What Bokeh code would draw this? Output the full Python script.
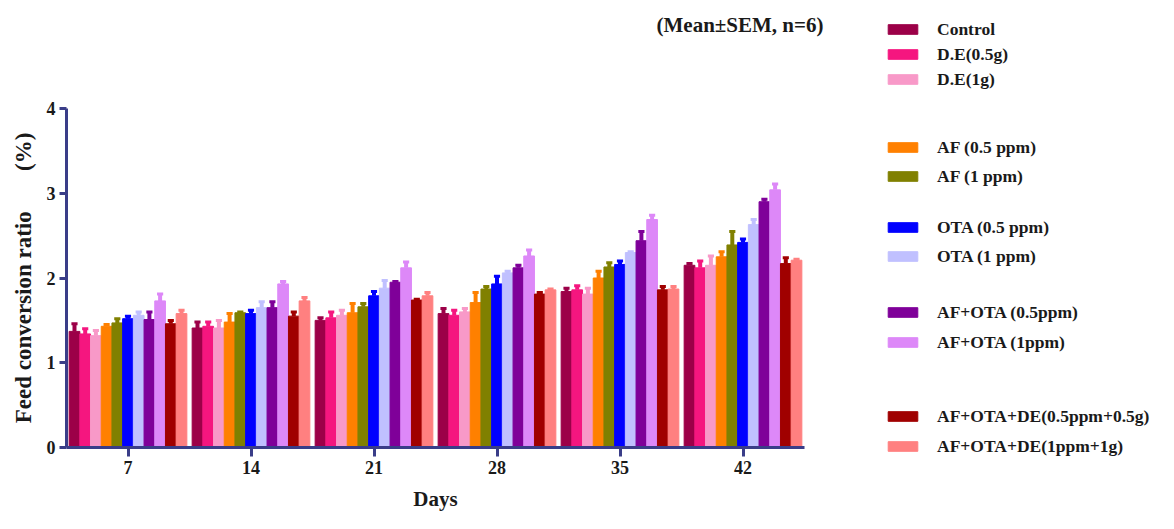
from bokeh.plotting import figure
from bokeh.layouts import row, column
from bokeh.models import (ColumnDataSource, FactorRange, Range1d, Legend, LegendItem,
                          Label, FixedTicker)
from bokeh.transform import dodge
from bokeh.embed import file_html
from bokeh.resources import INLINE

# ---------------- data ----------------
days = ["7", "14", "21", "28", "35", "42"]

series_names = [
    "Control", "D.E(0.5g)", "D.E(1g)",
    "AF (0.5 ppm)", "AF (1 ppm)",
    "OTA (0.5 ppm)", "OTA (1 ppm)",
    "AF+OTA (0.5ppm)", "AF+OTA (1ppm)",
    "AF+OTA+DE(0.5ppm+0.5g)", "AF+OTA+DE(1ppm+1g)",
]
series_colors = [
    "#9C0048", "#F5167F", "#F899C8",
    "#FF8000", "#808000",
    "#0000FF", "#C0C0FF",
    "#7F0099", "#DD88F8",
    "#A00000", "#FF8080",
]

control = [1.37, 1.41, 1.50, 1.58, 1.84, 2.15]
control_sem = [0.09, 0.07, 0.03, 0.06, 0.04, 0.02]
de_05 = [1.34, 1.43, 1.53, 1.56, 1.86, 2.12]
de_05_sem = [0.06, 0.05, 0.07, 0.06, 0.05, 0.08]
de_1 = [1.32, 1.41, 1.56, 1.60, 1.81, 2.15]
de_1_sem = [0.06, 0.09, 0.06, 0.04, 0.07, 0.11]
af_05 = [1.43, 1.48, 1.59, 1.71, 2.00, 2.25]
af_05_sem = [0.02, 0.10, 0.11, 0.12, 0.08, 0.06]
af_1 = [1.47, 1.59, 1.66, 1.87, 2.13, 2.39]
af_1_sem = [0.05, 0.01, 0.04, 0.03, 0.05, 0.16]
ota_05 = [1.52, 1.58, 1.79, 1.93, 2.16, 2.42]
ota_05_sem = [0.03, 0.04, 0.05, 0.09, 0.04, 0.04]
ota_1 = [1.56, 1.65, 1.88, 2.06, 2.30, 2.63]
ota_1_sem = [0.04, 0.07, 0.09, 0.02, 0.01, 0.06]
afota_05 = [1.51, 1.65, 1.95, 2.12, 2.44, 2.90]
afota_05_sem = [0.09, 0.07, 0.01, 0.03, 0.11, 0.03]
afota_1 = [1.73, 1.93, 2.12, 2.26, 2.69, 3.04]
afota_1_sem = [0.08, 0.03, 0.07, 0.07, 0.05, 0.07]
afotade_05 = [1.46, 1.55, 1.74, 1.81, 1.86, 2.17]
afotade_05_sem = [0.04, 0.05, 0.01, 0.02, 0.04, 0.07]
afotade_1 = [1.58, 1.73, 1.79, 1.86, 1.87, 2.21]
afotade_1_sem = [0.04, 0.04, 0.04, 0.01, 0.03, 0.01]

series_means = [control, de_05, de_1, af_05, af_1, ota_05, ota_1,
                afota_05, afota_1, afotade_05, afotade_1]
series_sems = [control_sem, de_05_sem, de_1_sem, af_05_sem, af_1_sem, ota_05_sem,
               ota_1_sem, afota_05_sem, afota_1_sem, afotade_05_sem, afotade_1_sem]

y_ticks = [0, 1, 2, 3, 4]

# ---------------- layout constants ----------------
FONT = "Liberation Serif"
AXIS_COLOR = "#3A3D88"
TEXT_COLOR = "#1A1A1A"
TOTAL_W, TOTAL_H = 1158, 513
LEFT_W = 870          # width of plot column
TOP_H = 45            # height of the note strip above the plot
LEG_W = TOTAL_W - LEFT_W


def blank_fig(w, h):
    f = figure(width=w, height=h, x_range=Range1d(0, w), y_range=Range1d(0, h),
               x_axis_type=None, y_axis_type=None, output_backend="svg",
               toolbar_location=None, min_border=0,
               min_border_left=0, min_border_right=0,
               min_border_top=0, min_border_bottom=0)
    f.frame_align = False
    f.grid.visible = False
    f.outline_line_color = None
    return f


# ---------------- note strip ----------------
top = blank_fig(LEFT_W, TOP_H)
top.add_layout(Label(x=656, y=TOP_H - 24, x_units="screen", y_units="screen",
                     text="(Mean\u00b1SEM, n=6)", text_font=FONT,
                     text_font_style="bold", text_font_size="21px", text_color=TEXT_COLOR,
                     text_align="left", text_baseline="middle"))

# ---------------- main plot ----------------
p = figure(
    x_range=FactorRange(*days, range_padding=0, factor_padding=0),
    y_range=Range1d(0, 4),
    width=LEFT_W, height=TOTAL_H - TOP_H,
    output_backend="svg", toolbar_location=None,
    min_border_left=66, min_border_right=LEFT_W - 804,
    min_border_top=108 - TOP_H, min_border_bottom=TOTAL_H - 449,
)
p.xgrid.visible = False
p.ygrid.visible = False
p.outline_line_color = None

bar_w = 0.087
cap_w = 0.05
n = len(series_names)
for i, (name, color, means, sems) in enumerate(zip(series_names, series_colors,
                                                     series_means, series_sems)):
    off = (i - (n - 1) / 2) * bar_w
    src = ColumnDataSource(dict(day=days, mean=means,
                                upper=[m + s for m, s in zip(means, sems)]))
    p.vbar(x=dodge("day", off, range=p.x_range), top="mean", width=bar_w,
           source=src, fill_color=color, line_color=color, line_width=1)
    p.segment(x0=dodge("day", off, range=p.x_range), y0="mean",
              x1=dodge("day", off, range=p.x_range), y1="upper",
              source=src, line_color=color, line_width=4)
    p.segment(x0=dodge("day", off - cap_w / 2, range=p.x_range), y0="upper",
              x1=dodge("day", off + cap_w / 2, range=p.x_range), y1="upper",
              source=src, line_color=color, line_width=3)

for ax in (p.xaxis[0], p.yaxis[0]):
    ax.axis_line_color = AXIS_COLOR
    ax.axis_line_width = 3
    ax.major_tick_line_color = AXIS_COLOR
    ax.major_tick_line_width = 3
    ax.major_tick_in = 0
    ax.minor_tick_line_color = None
    ax.major_label_text_font = FONT
    ax.major_label_text_font_style = "bold"
    ax.major_label_text_font_size = "18px"
    ax.major_label_text_color = TEXT_COLOR
    ax.axis_label_text_font = FONT
    ax.axis_label_text_font_style = "bold"
    ax.axis_label_text_color = TEXT_COLOR

p.xaxis.major_tick_out = 9
p.xaxis.major_label_standoff = 4
p.xaxis.axis_label = "Days"
p.xaxis.axis_label_text_font_size = "21px"
p.xaxis.axis_label_standoff = 10

p.yaxis.ticker = FixedTicker(ticks=y_ticks)
p.yaxis.major_tick_out = 7
p.yaxis.major_label_standoff = 4
p.yaxis.axis_label = "Feed conversion ratio" + "\u00a0" * 7 + "(%)"
p.yaxis.axis_label_text_font_size = "23px"
p.yaxis.axis_label_standoff = 8

# ---------------- legend panel ----------------
# swatch renderers: one off-screen sample each, so the legend has a glyph to draw
leg_fig = blank_fig(LEG_W, TOTAL_H)
swatches = []
for color in series_colors:
    r = leg_fig.vbar(x=[-1000], top=[-1000], bottom=[-1001], width=1,
                     fill_color=color, line_color=color)
    swatches.append(r)

blocks = [(0, 3), (3, 5), (5, 7), (7, 9), (9, 11)]
first_centers = [29, 147, 227, 312, 416]
pitches = [25, 29, 29, 30, 30]
row_h = 21
for (a, b), c, pitch in zip(blocks, first_centers, pitches):
    k = b - a
    spacing = pitch - row_h
    height = k * row_h + (k - 1) * spacing
    top_y = c - row_h / 2
    leg = Legend(
        items=[LegendItem(label=series_names[j], renderers=[swatches[j]]) for j in range(a, b)],
        location=(884 - LEFT_W, TOTAL_H - (top_y + height)),
        glyph_width=37, glyph_height=12, label_height=row_h, label_standoff=16,
        spacing=spacing, padding=0, margin=0,
        label_text_font=FONT, label_text_font_style="bold",
        label_text_font_size="17.5px", label_text_color=TEXT_COLOR,
        border_line_alpha=0, background_fill_alpha=0,
    )
    leg_fig.add_layout(leg, "center")

layout = row(column(top, p), leg_fig)
open("out.html", "w").write(file_html(layout, INLINE))
